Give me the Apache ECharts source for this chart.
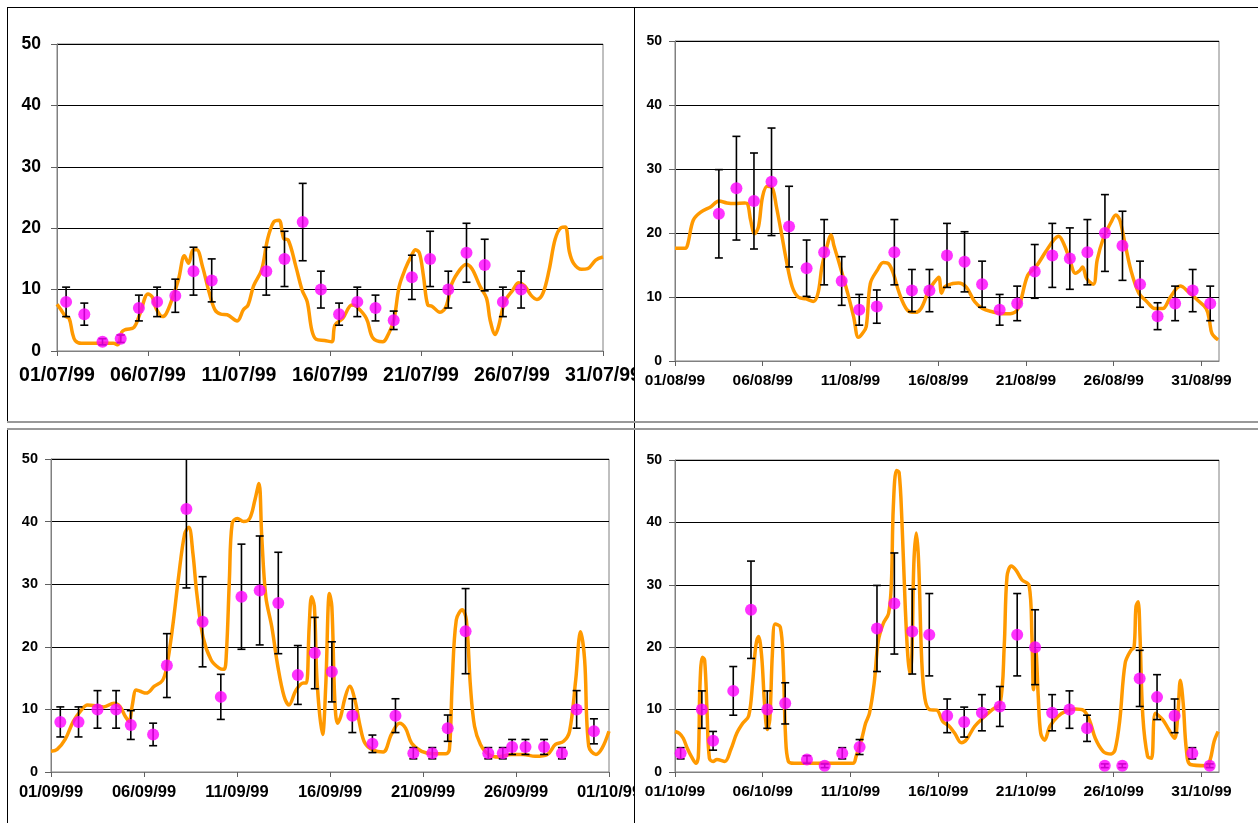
<!DOCTYPE html>
<html>
<head>
<meta charset="utf-8">
<script src="https://cdn.jsdelivr.net/npm/echarts@6/dist/echarts.min.js"></script>
<style>
html,body{margin:0;padding:0;background:#fff;}
body{width:1258px;height:823px;position:relative;overflow:hidden;}
.p{position:absolute;overflow:hidden;}
.l{position:absolute;}
</style>
</head>
<body>
<div class="l" style="left:7px;top:7px;width:1251px;height:1px;background:#000"></div>
<div class="l" style="left:7px;top:7px;width:1px;height:415px;background:#000"></div>
<div class="l" style="left:634px;top:7px;width:1px;height:816px;background:#000"></div>
<div class="l" style="left:7px;top:428px;width:1px;height:395px;background:#000"></div>
<div class="l" style="left:7px;top:421px;width:1251px;height:2px;background:#999"></div>
<div class="l" style="left:7px;top:428px;width:1251px;height:2px;background:#999"></div>
<div id="c1" class="p" style="left:8px;top:8px;width:626px;height:413px"></div>
<div id="c2" class="p" style="left:635px;top:8px;width:623px;height:413px"></div>
<div id="c3" class="p" style="left:8px;top:430px;width:626px;height:393px"></div>
<div id="c4" class="p" style="left:635px;top:430px;width:623px;height:393px"></div>
<script>
// ---------- tick labels ----------
const julTicks = ['01/07/99','06/07/99','11/07/99','16/07/99','21/07/99','26/07/99','31/07/99'];
const augTicks = ['01/08/99','06/08/99','11/08/99','16/08/99','21/08/99','26/08/99','31/08/99'];
const sepTicks = ['01/09/99','06/09/99','11/09/99','16/09/99','21/09/99','26/09/99','01/10/99'];
const octTicks = ['01/10/99','06/10/99','11/10/99','16/10/99','21/10/99','26/10/99','31/10/99'];
const yTicks = [0,10,20,30,40,50];

// ---------- July ----------
const julPtX = [0.5,1.5,2.5,3.5,4.5,5.5,6.5,7.5,8.5,11.5,12.5,13.5,14.5,15.5,16.5,17.5,18.5,19.5,20.5,21.5,22.5,23.5,24.5,25.5];
const julPtY = [8,6,1.5,2,7,8,9,13,11.5,13,15,21,10,6,8,7,5,12,15,10,16,14,8,10];
const julErr = [2.4,1.8,0.5,0.6,2.1,2.4,2.7,3.9,3.5,3.9,4.5,6.3,3,1.8,2.4,2.1,1.5,3.6,4.5,3,4.8,4.2,2.4,3];
const julLine = [[0,7.6],[0.22,6.7],[0.45,5.7],[0.67,5.3],[0.85,2.9],[1.0,1.7],[1.33,1.25],[3.1,1.25],[3.34,1.0],[3.56,3.1],[3.78,3.5],[4.23,3.85],[4.56,6.1],[5.0,9.3],[5.23,8.8],[5.45,6.9],[5.79,5.6],[6.0,6.1],[6.34,8.6],[6.68,11.7],[7.0,15.5],[7.23,14.3],[7.46,16.4],[7.68,16.5],[8.0,13.7],[8.35,9.65],[8.68,6.7],[9.0,6.0],[9.35,5.9],[9.9,4.9],[10.24,6.7],[10.5,7.5],[10.8,10.6],[11.24,13.2],[11.57,18.2],[11.9,21.0],[12.2,21.3],[12.46,18.3],[12.7,18.1],[13.13,13.7],[13.47,9.9],[13.75,8.0],[14.0,3.4],[14.24,1.9],[14.7,1.7],[15.1,1.5],[15.27,4.2],[15.7,5.3],[16.2,7.5],[16.47,7.2],[17.0,5.3],[17.36,2.1],[17.9,1.5],[18.1,2.1],[18.5,5.0],[18.8,10.5],[19.14,13.4],[19.47,15.5],[19.7,16.5],[19.92,15.9],[20.14,12.1],[20.37,7.5],[20.6,7.3],[21.04,6.3],[21.37,7.2],[21.7,11],[22.15,13.3],[22.48,14.1],[22.8,13.4],[23.25,10.5],[23.6,8.6],[23.8,5.0],[24.08,2.7],[24.26,4.0],[24.6,8.0],[25.04,9.9],[25.37,11.1],[25.7,10.6],[26.04,9.1],[26.37,8.4],[26.7,9.4],[27.04,13.2],[27.37,18.2],[27.7,20.1],[27.93,20.2],[28.15,16.2],[28.38,14.3],[28.82,13.3],[29.16,13.4],[29.6,14.8],[30,15.3]];

// ---------- August ----------
const augPtX = [2.5,3.5,4.5,5.5,6.5,7.5,8.5,9.5,10.5,11.5,12.5,13.5,14.5,15.5,16.5,17.5,18.5,19.5,20.5,21.5,22.5,23.5,24.5,25.5,26.5,27.5,28.5,29.5,30.5];
const augPtY = [23,27,25,28,21,14.5,17,12.5,8,8.5,17,11,11,16.5,15.5,12,8,9,14,16.5,16,17,20,18,12,7,9,11,9];
const augErr = [6.9,8.1,7.5,8.4,6.3,4.4,5.1,3.8,2.4,2.6,5.1,3.3,3.3,5,4.7,3.6,2.4,2.7,4.2,5,4.8,5.1,6,5.4,3.6,2.1,2.7,3.3,2.7];
const augLine = [[0,17.6],[0.59,17.6],[0.74,18.4],[1.04,22.0],[1.49,23.3],[2.05,24.1],[2.5,25.0],[2.96,24.7],[3.4,24.6],[3.97,24.7],[4.13,24.6],[4.31,22.0],[4.54,19.9],[4.76,21.0],[4.99,25.7],[5.26,27.3],[5.55,27.0],[5.78,24.1],[6.07,19.9],[6.34,15.8],[6.68,11.6],[7.02,10.0],[7.47,9.7],[7.88,9.3],[8.15,10.6],[8.37,14.7],[8.6,17.3],[8.9,19.7],[9.05,18.1],[9.28,16.0],[9.5,13.9],[9.84,10.6],[10.18,6.9],[10.45,3.7],[10.68,4.3],[10.9,5.4],[11.13,12.1],[11.53,14.2],[11.87,15.4],[12.17,15.2],[12.44,13.7],[12.78,10.6],[13.23,8.0],[13.68,7.6],[14.02,8.2],[14.47,11.1],[14.8,12.4],[15.03,13.1],[15.19,10.6],[15.37,11.6],[15.82,12.1],[16.16,12.2],[16.61,11.5],[17.07,9.3],[17.52,8.2],[18.08,7.7],[18.65,7.4],[19.1,7.4],[19.55,8.2],[20.1,13.4],[20.56,14.7],[21.13,17.1],[21.58,18.9],[21.87,19.5],[22.14,18.4],[22.48,16.0],[22.82,13.7],[23.05,14.1],[23.23,14.7],[23.45,12.9],[23.84,12.0],[24.06,15.8],[24.4,19.1],[24.85,21.7],[25.12,22.8],[25.35,22.0],[25.64,18.4],[25.98,14.2],[26.43,10.6],[26.88,9.3],[27.34,8.2],[27.79,8.2],[28.23,10.0],[28.8,11.7],[29.26,10.8],[29.82,9.4],[30.27,8.2],[30.45,6.4],[30.6,4.3],[30.95,3.3]];

// ---------- September ----------
const sepPtX = [0.5,1.48,2.5,3.5,4.29,5.49,6.23,7.28,8.15,9.13,10.24,11.22,12.22,13.27,14.18,15.1,16.2,17.28,18.52,19.48,20.5,21.33,22.29,23.51,24.29,24.79,25.51,26.51,27.47,28.26,29.19];
const sepPtY = [8,8,10,10,7.5,6,17,42,24,12,28,29,27,15.5,19,16,9,4.5,9,3,3,7,22.5,3,3,4,4,4,3,10,6.5];
const sepErr = [2.4,2.4,3,3,2.3,1.8,5.1,12.6,7.2,3.6,8.4,8.7,8.1,4.7,5.7,4.8,2.7,1.4,2.7,0.9,0.9,2.1,6.8,0.9,0.9,1.2,1.2,1.2,0.9,3,2];
const sepLine = [[0,3.3],[0.33,3.6],[0.76,5.2],[1.2,8.1],[1.63,9.9],[1.96,10.7],[2.4,10.6],[2.83,10.4],[3.38,11.0],[3.7,10.5],[3.99,8.9],[4.2,8.1],[4.36,10.5],[4.58,13.1],[4.79,12.9],[5.12,12.6],[5.56,13.7],[5.99,14.6],[6.21,16.6],[6.54,23.2],[6.86,31.2],[7.19,38.1],[7.41,39.1],[7.63,34.9],[7.84,28.5],[8.17,21.6],[8.61,17.9],[9.04,16.6],[9.3,16.4],[9.43,19.0],[9.59,30.7],[9.74,39.7],[10.02,40.5],[10.35,40.0],[10.68,40.5],[10.96,43.4],[11.18,46.1],[11.33,37.6],[11.55,28.0],[11.87,23.2],[12.2,16.8],[12.53,12.1],[12.79,10.7],[13.18,13.1],[13.57,14.2],[13.73,14.2],[13.88,23.2],[14.01,28.0],[14.16,26.4],[14.31,14.2],[14.6,6.0],[14.77,13.7],[14.97,28.5],[15.1,26.4],[15.25,12.1],[15.4,7.8],[15.58,8.9],[15.8,11.8],[16.06,13.7],[16.34,11.5],[16.62,7.3],[16.88,4.6],[17.32,3.5],[17.86,3.2],[18.3,6.0],[18.74,7.8],[19.06,7.0],[19.39,4.6],[19.93,3.3],[20.59,2.9],[21.24,2.9],[21.42,3.6],[21.57,14.2],[21.79,24.3],[22.11,25.9],[22.33,24.3],[22.55,13.7],[22.77,7.3],[23.09,4.4],[23.53,2.8],[24.07,2.4],[24.73,2.8],[25.38,2.8],[26.03,2.5],[26.69,2.8],[27.12,4.4],[27.56,4.9],[27.88,6.5],[28.21,14.7],[28.47,22.4],[28.69,17.9],[28.91,4.1],[29.3,2.8],[29.63,3.8],[30,6.5]];

// ---------- October ----------
const octPtX = [0.32,1.53,2.17,3.32,4.33,5.26,6.28,7.52,8.53,9.53,10.52,11.51,12.5,13.52,14.49,15.51,16.48,17.49,18.51,19.5,20.52,21.49,22.48,23.48,24.49,25.49,26.48,27.47,28.47,29.48,30.47];
const octPtY = [3,10,5,13,26,10,11,2,1,3,4,23,27,22.5,22,9,8,9.5,10.5,22,20,9.5,10,7,1,1,15,12,9,3,1];
const octErr = [0.9,3,1.5,3.9,7.8,3,3.3,0.6,0.3,0.9,1.2,6.9,8.1,6.8,6.6,2.7,2.4,2.9,3.2,6.6,6,2.9,3,2.1,0.3,0.3,4.5,3.6,2.7,0.9,0.3];
const octLine = [[0,6.5],[0.25,6.2],[0.47,5.4],[0.7,3.8],[0.93,2.5],[1.2,1.4],[1.33,2.5],[1.42,13.7],[1.56,18.4],[1.69,17.9],[1.83,9.4],[1.96,2.2],[2.17,1.7],[2.39,2.0],[2.84,1.7],[3.18,3.6],[3.52,6.2],[3.86,7.8],[4.2,9.0],[4.42,14.2],[4.6,20.1],[4.76,21.7],[4.94,18.5],[5.1,11.0],[5.26,6.8],[5.4,8.4],[5.55,19.0],[5.71,23.7],[6.0,23.2],[6.16,17.9],[6.3,5.7],[6.46,1.7],[6.79,1.4],[8.37,1.4],[10.14,1.4],[10.32,2.5],[10.63,5.2],[10.86,7.8],[11.08,9.4],[11.35,14.2],[11.58,20.9],[11.87,23.8],[12.17,25.4],[12.33,30.2],[12.44,42.4],[12.62,48.3],[12.77,48.0],[12.93,40.3],[13.12,26.5],[13.27,18.5],[13.39,15.8],[13.5,19.0],[13.61,33.4],[13.75,38.3],[13.88,33.9],[14.06,17.9],[14.24,11.8],[14.51,10.0],[14.92,9.9],[15.26,8.1],[15.6,7.4],[15.94,6.2],[16.32,4.7],[16.61,5.2],[17.07,7.3],[17.52,8.6],[18.08,10.0],[18.53,11.0],[18.76,20.1],[18.92,31.3],[19.16,33.0],[19.44,32.3],[19.77,30.8],[20.18,29.9],[20.34,21.7],[20.43,13.2],[20.56,19.5],[20.7,12.1],[20.84,6.2],[21.06,5.1],[21.36,7.3],[21.81,8.9],[22.26,9.7],[22.82,10.1],[23.27,9.9],[23.61,8.4],[23.95,5.4],[24.4,3.3],[24.86,2.9],[25.08,3.6],[25.35,8.4],[25.65,17.4],[25.98,19.5],[26.16,20.0],[26.27,26.5],[26.39,27.3],[26.5,21.7],[26.66,8.9],[26.93,2.5],[27.15,2.2],[27.38,9.4],[27.79,8.4],[28.12,6.9],[28.46,5.4],[28.64,8.6],[28.8,14.7],[28.96,11.0],[29.14,3.6],[29.37,1.2],[30.27,1.0],[30.5,2.0],[30.72,4.9],[30.95,6.5]];

// ---------- build ----------
const FONT = '"Liberation Sans", Arial, sans-serif';
const ORANGE = '#FF9900';
const MAGENTA = '#FF00FF';

function makeOption(cfg) {
  const pts = cfg.px.map((x, i) => [x, cfg.py[i]]);
  const err = cfg.px.map((x, i) => [x, cfg.py[i], cfg.err[i]]);
  const tickVals = cfg.ticks.map((t, i) => i * 5);
  return {
    animation: false,
    backgroundColor: '#fff',
    grid: { left: cfg.g[0], top: cfg.g[1], width: cfg.g[2], height: cfg.g[3], containLabel: false, outerBoundsMode: 'none',
      show: true, borderColor: '#808080', borderWidth: 1, backgroundColor: 'transparent' },
    xAxis: {
      type: 'value', min: 0, max: cfg.xmax, interval: 5,
      axisLine: { show: true, onZero: false, lineStyle: { color: '#808080', width: 1 } },
      axisTick: { show: true, length: 5, inside: false, customValues: tickVals, lineStyle: { color: '#606060' } },
      axisLabel: { customValues: tickVals, margin: cfg.xm, fontFamily: FONT, fontWeight: 'bold', fontSize: cfg.xfs, color: '#000',
        hideOverlap: false, formatter: v => cfg.ticks[Math.round(v / 5)] || '' },
      splitLine: { show: false }
    },
    yAxis: {
      type: 'value', min: 0, max: 50, interval: 10,
      axisLine: { show: true, lineStyle: { color: '#808080', width: 1 } },
      axisTick: { show: true, length: 6, lineStyle: { color: '#606060' } },
      axisLabel: { margin: cfg.ym, fontFamily: FONT, fontWeight: 'bold', fontSize: cfg.yfs, color: '#000',
        formatter: v => (yTicks.indexOf(v) >= 0 ? String(v) : '') },
      splitLine: { show: true, lineStyle: { color: '#000', width: 1 } }
    },
    series: [
      { type: 'line', data: cfg.line, smooth: 0.35, symbol: 'none', clip: true, z: 2,
        lineStyle: { color: ORANGE, width: 3.5 } },
      { type: 'custom', data: err, clip: true, z: 3,
        renderItem: function (params, api) {
          const x = api.value(0), y = api.value(1), e = api.value(2);
          const t = api.coord([x, y + e]);
          const b = api.coord([x, y - e]);
          const hw = 4;
          const st = { stroke: '#000', lineWidth: 1.6 };
          return { type: 'group', children: [
            { type: 'line', shape: { x1: t[0], y1: t[1], x2: b[0], y2: b[1] }, style: st },
            { type: 'line', shape: { x1: t[0] - hw, y1: t[1], x2: t[0] + hw, y2: t[1] }, style: st },
            { type: 'line', shape: { x1: b[0] - hw, y1: b[1], x2: b[0] + hw, y2: b[1] }, style: st }
          ] };
        }
      },
      { type: 'scatter', data: pts, symbol: 'circle', symbolSize: 12, z: 4,
        itemStyle: { color: MAGENTA } }
    ]
  };
}

const panels = [
  { id: 'c1', ticks: julTicks, px: julPtX, py: julPtY, err: julErr, line: julLine, xmax: 30, g: [49, 36, 546, 307], xfs: 19.5, yfs: 17.5, xm: 15, ym: 16 },
  { id: 'c2', ticks: augTicks, px: augPtX, py: augPtY, err: augErr, line: augLine, xmax: 31, g: [40, 33, 544, 320], xfs: 15.5, yfs: 14, xm: 12, ym: 13 },
  { id: 'c3', ticks: sepTicks, px: sepPtX, py: sepPtY, err: sepErr, line: sepLine, xmax: 30, g: [43, 29, 558, 313], xfs: 16.5, yfs: 14.5, xm: 12, ym: 13 },
  { id: 'c4', ticks: octTicks, px: octPtX, py: octPtY, err: octErr, line: octLine, xmax: 31, g: [40, 30, 544, 312], xfs: 15.5, yfs: 14, xm: 12, ym: 13 }
];
panels.forEach(p => {
  const ch = echarts.init(document.getElementById(p.id), null, { renderer: 'canvas' });
  ch.setOption(makeOption(p));
});
</script>
</body>
</html>
